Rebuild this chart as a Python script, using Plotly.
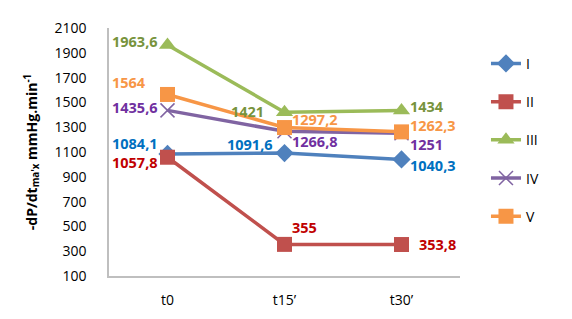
import plotly.graph_objects as go

categories = ["t0", "t15’", "t30’"]
series_names = ["I", "II", "III", "IV", "V"]
s_I = [1084.1, 1091.6, 1040.3]
s_II = [1057.8, 355, 353.8]
s_III = [1963.6, 1421, 1434]
s_IV = [1435.6, 1266.8, 1251]
s_V = [1564, 1297.2, 1262.3]
y_ticks = [100, 300, 500, 700, 900, 1100, 1300, 1500, 1700, 1900, 2100]

values = [s_I, s_II, s_III, s_IV, s_V]
line_colors = ["#4F81BD", "#C0504D", "#9BBB59", "#8064A2", "#F79646"]
label_colors = ["#0070C0", "#C00000", "#77933C", "#7030A0", "#F79646"]
symbols = ["diamond", "square", "triangle-up", "x-thin", "square"]
msizes = [14, 15, 15, 14, 15]

# label placement (xanchor, xshift, yshift) per series per point
label_pos = [
    [("right", -8, 10), ("right", -10, 9), ("left", 6, -6)],
    [("right", -8, -5), ("left", 5, 17), ("left", 15, 0)],
    [("right", -8, 3), ("right", -19, 1), ("left", 6, 4)],
    [("right", -8, 3), ("left", 5, -10), ("left", 6, -11)],
    [("right", -20, 12), ("left", 5, 8), ("left", 6, 6)],
]

fig = go.Figure()
annotations = []
for i, (name, vals) in enumerate(zip(series_names, values)):
    marker = dict(symbol=symbols[i], size=msizes[i], color=line_colors[i])
    if symbols[i] == "x-thin":
        marker["line"] = dict(width=1.5, color=line_colors[i])
    fig.add_trace(go.Scatter(
        x=categories, y=vals, name=name, mode="lines+markers",
        line=dict(color=line_colors[i], width=3.5),
        marker=marker, legendgroup=name,
    ))
    for j, v in enumerate(vals):
        xa, xs, ys = label_pos[i][j]
        txt = (f"{v:.1f}".replace(".", ",")) if v != int(v) else str(int(v))
        annotations.append(dict(
            x=categories[j], y=v, text=txt, showarrow=False,
            xanchor=xa, yanchor="middle", xshift=xs, yshift=ys,
            font=dict(family="Open Sans", size=14.5, color=label_colors[i], weight="bold"),
        ))

fig.update_layout(
    width=564, height=311,
    margin=dict(l=101, r=112, t=20, b=43, autoexpand=False),
    paper_bgcolor="white", plot_bgcolor="white",
    font=dict(family="Open Sans", size=14, color="black"),
    annotations=annotations,
    legend=dict(x=1.074, y=0.92, xanchor="left", yanchor="top",
                font=dict(size=14), tracegroupgap=17, itemwidth=30),
    xaxis=dict(type="category", range=[-0.5, 2.5], showgrid=False,
               showline=True, linecolor="#BFBFBF", linewidth=1.5,
               ticks="", ticklabelstandoff=10, tickfont=dict(size=14),
               automargin=False),
    yaxis=dict(range=[100, 2100], tickvals=y_ticks, showgrid=False,
               showline=True, linecolor="#BFBFBF", linewidth=1.5,
               ticks="", zeroline=False, ticklabelstandoff=18,
               tickfont=dict(size=14), automargin=False,
               title=dict(text="-dP/dt<sub>ma'x</sub> mmHg.min<sup>-1</sup>",
                          font=dict(size=14, weight="bold"), standoff=14)),
)

fig.write_html("out.html")
